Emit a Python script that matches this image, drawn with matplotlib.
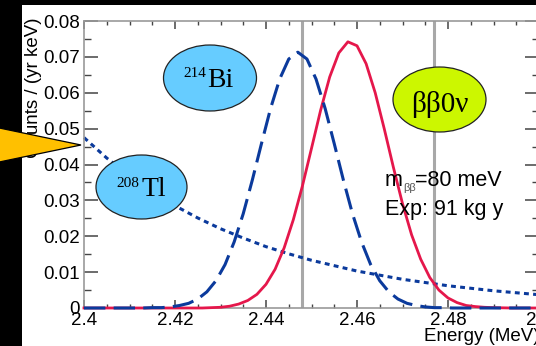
import matplotlib
matplotlib.use("Agg")
import matplotlib.pyplot as plt
from matplotlib.patches import Ellipse, Polygon, Rectangle
from matplotlib.ticker import MultipleLocator

plt.rcParams["font.family"] = ["Liberation Sans", "DejaVu Sans"]

# ---- data -------------------------------------------------------------
# 0vbb signal peak (counts / (yr keV))
bb0v_energy = [2.400, 2.420, 2.426, 2.428, 2.430, 2.432, 2.434, 2.436, 2.438,
               2.440, 2.442, 2.444, 2.446, 2.448, 2.450, 2.452, 2.454, 2.456,
               2.458, 2.460, 2.462, 2.464, 2.466, 2.468, 2.470, 2.472, 2.474,
               2.476, 2.478, 2.480, 2.482, 2.484, 2.486, 2.488, 2.490, 2.494,
               2.500]
bb0v_counts = [0.0, 0.0, 0.0, 0.0001, 0.0002, 0.0005, 0.0011, 0.0021, 0.0038,
               0.0066, 0.0108, 0.0168, 0.0246, 0.0340, 0.0445, 0.0551, 0.0644,
               0.0711, 0.0742, 0.0731, 0.0681, 0.0600, 0.0499, 0.0392, 0.0291,
               0.0204, 0.0136, 0.0085, 0.0050, 0.0028, 0.0015, 0.0007, 0.0004,
               0.0002, 0.0001, 0.0, 0.0]

# 214Bi line
bi214_energy = [2.400, 2.411, 2.413, 2.415, 2.417, 2.419, 2.421, 2.423, 2.425,
                2.427, 2.429, 2.431, 2.433, 2.435, 2.437, 2.439, 2.441, 2.443,
                2.445, 2.447, 2.449, 2.451, 2.453, 2.455, 2.457, 2.459, 2.461,
                2.463, 2.465, 2.467, 2.469, 2.471, 2.473, 2.475, 2.477, 2.479,
                2.481, 2.483, 2.500]
bi214_counts = [0.0, 0.0, 0.0, 0.0001, 0.0001, 0.0003, 0.0007, 0.0013, 0.0025,
                0.0045, 0.0076, 0.0121, 0.0184, 0.0263, 0.0357, 0.0458, 0.0556,
                0.0638, 0.0694, 0.0713, 0.0694, 0.0638, 0.0556, 0.0458, 0.0357,
                0.0263, 0.0184, 0.0121, 0.0076, 0.0045, 0.0025, 0.0013, 0.0007,
                0.0003, 0.0001, 0.0001, 0.0, 0.0, 0.0]

# 208Tl continuum
tl208_energy = [2.400, 2.405, 2.410, 2.415, 2.420, 2.425, 2.430, 2.435, 2.440,
                2.445, 2.450, 2.460, 2.470, 2.480, 2.490, 2.500]
tl208_counts = [0.0475, 0.0418, 0.0368, 0.0324, 0.0285, 0.0251, 0.0221, 0.0195,
                0.0171, 0.0151, 0.0133, 0.0103, 0.0080, 0.0062, 0.0048, 0.0037]

# region of interest boundaries (MeV)
roi_edges = [2.448, 2.477]

x_ticks = [2.40, 2.42, 2.44, 2.46, 2.48, 2.50]
x_tick_labels = ["2.4", "2.42", "2.44", "2.46", "2.48", "2.5"]
y_ticks = [0.0, 0.01, 0.02, 0.03, 0.04, 0.05, 0.06, 0.07, 0.08]
y_tick_labels = ["0", "0.01", "0.02", "0.03", "0.04", "0.05", "0.06", "0.07", "0.08"]

# ---- figure -----------------------------------------------------------
W, H = 536, 346
fig = plt.figure(figsize=(W / 100, H / 100), dpi=100, facecolor="black")


def fx(px):
    return px / W


def fy(py):
    return 1 - py / H


fig.add_artist(Rectangle((fx(22), 0), 1 - fx(22), fy(5), transform=fig.transFigure,
                         facecolor="white", edgecolor="none", zorder=-10))

ax = fig.add_axes([fx(84), fy(308), (539 - 84) / W, (308 - 21) / H])
ax.set_xlim(2.4, 2.5)
ax.set_ylim(0, 0.08)

blue = "#0b3a9c"
red = "#e5174b"

for e in roi_edges:
    ax.axvline(e, color="#a8a8a8", lw=2.2, zorder=1.5)

ax.plot(tl208_energy, tl208_counts, color=blue, lw=2.2,
        linestyle=(0, (1.6, 1.4)), zorder=2, clip_on=False)
ax.plot(bb0v_energy, bb0v_counts, color=red, lw=2.0, zorder=3, clip_on=False)
ax.plot(bi214_energy, bi214_counts, color=blue, lw=2.2,
        linestyle=(0, (7, 2.7)), zorder=4, clip_on=False)

ax.set_xticks(x_ticks, x_tick_labels)
ax.set_yticks(y_ticks, y_tick_labels)
ax.xaxis.set_minor_locator(MultipleLocator(0.005))
ax.yaxis.set_minor_locator(MultipleLocator(0.005))
tick_col = "#444444"
ax.tick_params(axis="x", which="major", direction="in", length=5.8, width=1.1,
               top=True, bottom=True, labelsize=13.5, pad=3, color=tick_col)
ax.tick_params(axis="x", which="minor", direction="in", length=2.9, width=1.0,
               top=True, bottom=True, color=tick_col)
ax.tick_params(axis="y", which="major", direction="in", length=10, width=1.1,
               left=True, right=True, labelsize=13.5, pad=3, color=tick_col)
ax.tick_params(axis="y", which="minor", direction="in", length=5, width=1.0,
               left=True, right=True, color=tick_col)
for sp in ax.spines.values():
    sp.set_color("#999999")
    sp.set_linewidth(1.2)

# axis titles
fig.text(fx(33), fy(17), "Counts / (yr keV)", rotation=90, ha="center", va="top",
         fontsize=13.5, zorder=2)
fig.text(fx(539), fy(341), "Energy (MeV)", ha="right", va="baseline",
         fontsize=13.5, zorder=2)

# labelled bubbles
bubbles = [((210, 78), 93, 66, "#66ccff"),
           ((141.5, 187), 91, 64, "#66ccff"),
           ((439.5, 99.5), 93, 65, "#ccf700")]
for (cx, cy), w, h, col in bubbles:
    fig.add_artist(Ellipse((fx(cx), fy(cy)), w / W, h / H, transform=fig.transFigure,
                           facecolor=col, edgecolor="#222222", lw=0.9, zorder=5))

serif = ["Liberation Serif", "DejaVu Serif"]
fig.text(fx(183), fy(77), "214", fontsize=11, family=serif, va="baseline", zorder=6)
fig.text(fx(207), fy(87), "Bi", fontsize=20, family=serif, va="baseline", zorder=6)
fig.text(fx(116), fy(187), "208", fontsize=11, family=serif, va="baseline", zorder=6)
fig.text(fx(141), fy(196), "Tl", fontsize=20, family=serif, va="baseline", zorder=6)
fig.text(fx(411), fy(112), "ββ0ν", fontsize=21, family=serif, va="baseline", zorder=6)

fig.text(fx(385), fy(186), "m", fontsize=15.5, va="baseline", zorder=6)
fig.text(fx(403), fy(191), "ββ", fontsize=8, va="baseline", color="#555555", zorder=6)
fig.text(fx(415), fy(186), "=80 meV", fontsize=15.5, va="baseline", zorder=6)
fig.text(fx(385), fy(215), "Exp: 91 kg y", fontsize=15.5, va="baseline", zorder=6)

# pointer arrow head at the left edge
fig.add_artist(Polygon([(fx(-20), fy(124)), (fx(81), fy(145)), (fx(-20), fy(166))],
                       closed=True, transform=fig.transFigure, facecolor="#ffc000",
                       edgecolor="black", lw=0.9, zorder=7))

fig.savefig("out.png", dpi=100, facecolor="black")
